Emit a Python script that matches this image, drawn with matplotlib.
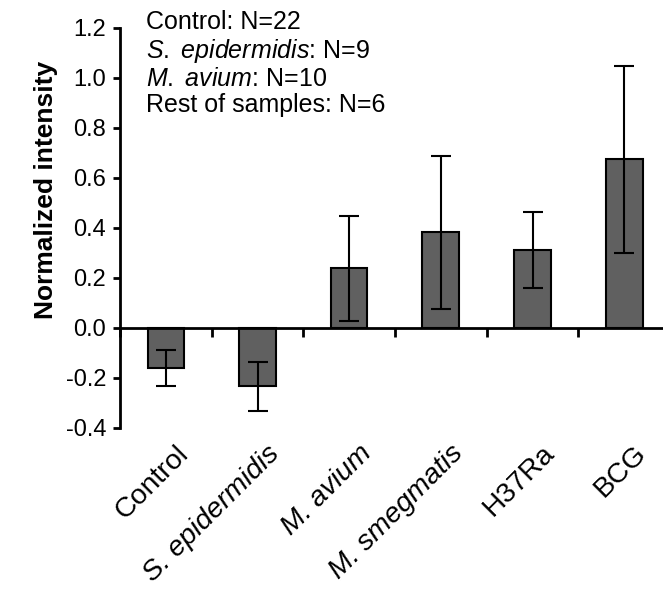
import matplotlib
matplotlib.use("Agg")
import matplotlib.pyplot as plt
import numpy as np

plt.rcParams['font.family'] = ['Liberation Sans', 'DejaVu Sans']
plt.rcParams['mathtext.fontset'] = 'custom'
plt.rcParams['mathtext.rm'] = 'Liberation Sans'
plt.rcParams['mathtext.it'] = 'Liberation Sans:italic'
plt.rcParams['axes.unicode_minus'] = False

grupos = ["Control", "S. epidermidis", "M. avium", "M. smegmatis", "H37Ra", "BCG"]
italico = [False, True, True, True, False, False]
media = [-0.16, -0.233, 0.24, 0.383, 0.312, 0.675]
erro = [0.073, 0.097, 0.21, 0.305, 0.153, 0.374]
yticks = [-0.4, -0.2, 0.0, 0.2, 0.4, 0.6, 0.8, 1.0, 1.2]

fig = plt.figure(figsize=(6.63, 5.9), dpi=100)
ax = fig.add_axes([120/663, 162/590, 550/663, 400/590])

x = np.arange(len(grupos)) + 0.5
ax.bar(x, media, width=0.4, color="#606060", edgecolor="black", linewidth=1.5, zorder=2)
ax.errorbar(x, media, yerr=erro, fmt="none", ecolor="black", elinewidth=1.5,
            capsize=7, capthick=1.5, zorder=3)

ax.set_xlim(0, len(grupos))
ax.set_ylim(-0.4, 1.2)
ax.set_yticks(yticks)
ax.set_yticklabels([f"{v:.1f}" for v in yticks], fontsize=17)
ax.set_xticks(np.arange(len(grupos) + 1))
ax.set_xticklabels([])

for s in ["top", "right"]:
    ax.spines[s].set_visible(False)
ax.spines["bottom"].set_position(("data", 0))
ax.spines["left"].set_linewidth(2)
ax.spines["bottom"].set_linewidth(2)
ax.tick_params(axis="y", direction="out", length=5, width=2, pad=5)
ax.tick_params(axis="x", direction="out", length=6.5, width=2)

# rotulos das categorias, abaixo do grafico
for xi, nome, it in zip(x, grupos, italico):
    ax.text(xi + 0.1, -0.45, nome, rotation=45, rotation_mode="anchor",
            ha="right", va="top", fontsize=20.5, clip_on=False,
            fontstyle="italic" if it else "normal")

ax.set_ylabel("Normalized intensity", fontsize=19, fontweight="bold")
ax.yaxis.set_label_coords(58/663, 1 - 190/590, transform=fig.transFigure)

info = ("Control: N=22\n"
        r"$\mathit{S.\ epidermidis}$: N=9" "\n"
        r"$\mathit{M.\ avium}$: N=10" "\n"
        "Rest of samples: N=6")
fig.text(146/663, 1 - 10/590, info, ha="left", va="top", fontsize=18, linespacing=1.12)

plt.savefig("out.png", dpi=100)
